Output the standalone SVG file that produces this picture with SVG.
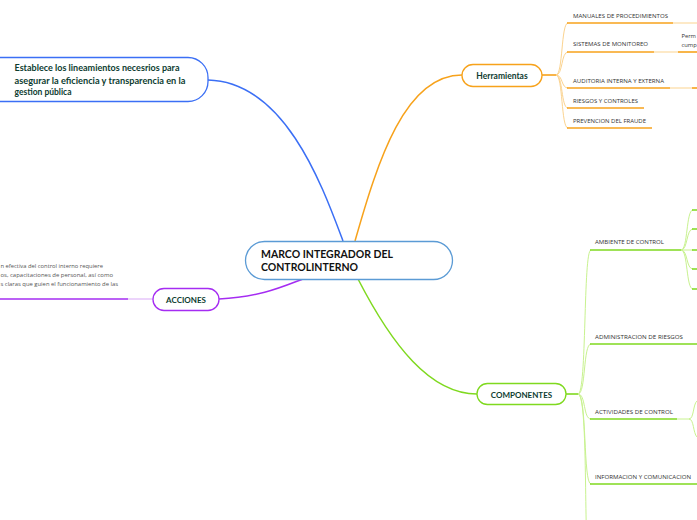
<svg xmlns="http://www.w3.org/2000/svg" width="697" height="520" viewBox="0 0 697 520">
<style>
.node{fill:#fff;stroke-width:1.3}
.nt{font-family:Lato,"Open Sans",sans-serif;font-weight:bold;fill:#0d3c30}
.ct{font-family:Lato,"Open Sans",sans-serif;font-weight:bold;fill:#111;font-size:10.5px}
.st{font-family:"Open Sans","Noto Sans",sans-serif;font-size:5.8px;fill:#333}
.gt{font-family:"Open Sans","Noto Sans",sans-serif;font-size:6px;fill:#555}
.c{fill:none}
.ob{stroke:#f7a21b;stroke-width:1.6}
.ol{stroke:#fbd38f;stroke-width:1}
.gb{stroke:#7fd91f;stroke-width:1.6}
.gl{stroke:#c8f28f;stroke-width:1}
</style>
<rect width="697" height="520" fill="#fff"/>
<g id="connectors">
<path class="c" d="M208,80 C285,82 322,185 343,241" stroke="#3b6ff5" stroke-width="1.5"/>
<path class="c" d="M355,241 C378,160 405,75 462,75" stroke="#f7a21b" stroke-width="1.5"/>
<path class="c" d="M219,299 C260,297 282,287 303,279" stroke="#a52cf2" stroke-width="1.5"/>
<path class="c" d="M358,279 C392,345 430,394 477,394" stroke="#7fd91f" stroke-width="1.5"/>
<path class="c" d="M128,299 L153,299" stroke="#d9a9f7" stroke-width="1"/>
<path class="c" d="M0,299 L128,299" stroke="#a52cf2" stroke-width="1.6"/>
<path class="c ob" d="M542,75 L556,75"/>
<path class="c ol" d="M556,75 C563,75 561,23 568,23"/>
<path class="c ol" d="M556,75 C563,75 561,52 568,52"/>
<path class="c ol" d="M556,75 C563,75 561,88 568,88"/>
<path class="c ol" d="M556,75 C563,75 561,108 568,108"/>
<path class="c ol" d="M556,75 C563,75 561,128 568,128"/>
<path class="c ob" d="M567,23 L673,23"/>
<path class="c ol" d="M673,23 L697,23"/>
<path class="c ob" d="M567,52 L654,52"/>
<path class="c ol" d="M654,52 L678,52"/>
<path class="c ob" d="M678,52 L697,52"/>
<path class="c ob" d="M567,88 L670,88"/>
<path class="c ol" d="M670,88 L692,88"/>
<path class="c ob" d="M692,88 L697,88"/>
<path class="c ob" d="M567,108 L644,108"/>
<path class="c ob" d="M567,128 L652,128"/>
<path class="c gb" d="M566,394 L578,394"/>
<path class="c gl" d="M578,394 C587,394 583,250 591,250"/>
<path class="c gl" d="M578,394 C586,394 583,344 591,344"/>
<path class="c gl" d="M578,394 C586,394 583,419 591,419"/>
<path class="c gl" d="M578,394 C587,394 583,484 591,484"/>
<path class="c gl" d="M578,394 C588,394 584,530 588,560"/>
<path class="c gb" d="M590,250 L681,250"/>
<path class="c gl" d="M681,250 C688,250 686,210 693,210"/>
<path class="c gl" d="M681,250 C688,250 686,229 693,229"/>
<path class="c gl" d="M681,250 L693,250"/>
<path class="c gl" d="M681,250 C688,250 686,269 693,269"/>
<path class="c gl" d="M681,250 C688,250 686,289 693,289"/>
<path class="c gb" d="M692,210 L697,210 M692,229 L697,229 M692,250 L697,250 M692,269 L697,269 M692,289 L697,289"/>
<path class="c gb" d="M590,344 L697,344"/>
<path class="c gb" d="M590,419 L677,419"/>
<path class="c gl" d="M677,419 L690,419"/>
<path class="c gl" d="M689,419 C694,419 693,404 697,401"/>
<path class="c gl" d="M689,419 C694,419 693,433 697,437"/>
<path class="c gb" d="M590,484 L697,484"/>
</g>
<g id="n-central">
<rect class="node" x="245.5" y="241.5" width="207" height="38" rx="19" stroke="#5b9bd5"/>
<text class="ct" x="261" y="258">MARCO INTEGRADOR DEL</text>
<text class="ct" x="261" y="271">CONTROLINTERNO</text>
</g>
<g id="n-establece">
<rect class="node" x="-20" y="57.5" width="228" height="44" rx="20" stroke="#3b6ff5"/>
<text class="nt" font-size="8.5" x="14.5" y="71" textLength="165" lengthAdjust="spacingAndGlyphs">Establece los lineamientos necesrios para</text>
<text class="nt" font-size="8.5" x="14.5" y="84" textLength="171" lengthAdjust="spacingAndGlyphs">asegurar la eficiencia y transparencia en la</text>
<text class="nt" font-size="8.5" x="14.5" y="95">gestion pública</text>
</g>
<g id="n-herramientas">
<rect class="node" x="462" y="64.5" width="80" height="22" rx="11" stroke="#f7a21b"/>
<text class="nt" font-size="8.5" x="502" y="79" text-anchor="middle">Herramientas</text>
</g>
<g id="n-acciones">
<rect class="node" x="153" y="288.5" width="66" height="22" rx="11" stroke="#a52cf2"/>
<text class="nt" font-size="8" x="186" y="302.5" text-anchor="middle">ACCIONES</text>
</g>
<g id="n-acciones-text">
<text class="gt" x="0.5" y="268" textLength="102.5" lengthAdjust="spacingAndGlyphs">n efectiva del control interno requiere</text>
<text class="gt" x="0.5" y="277" textLength="112.5" lengthAdjust="spacingAndGlyphs">os, capacitaciones de personal, así como</text>
<text class="gt" x="0.5" y="286" textLength="117.5" lengthAdjust="spacingAndGlyphs">s claras que guien el funcionamiento de las</text>
</g>
<g id="n-componentes">
<rect class="node" x="477" y="383.5" width="89" height="21" rx="10.5" stroke="#7fd91f"/>
<text class="nt" font-size="8" x="521.5" y="397.5" text-anchor="middle">COMPONENTES</text>
</g>
<g id="n-manuales"><text class="st" x="573" y="18" textLength="95" lengthAdjust="spacingAndGlyphs">MANUALES DE PROCEDIMIENTOS</text></g>
<g id="n-sistemas"><text class="st" x="573" y="46" textLength="75" lengthAdjust="spacingAndGlyphs">SISTEMAS DE MONITOREO</text></g>
<g id="n-permite"><text class="st" x="681.5" y="37.5">Perm</text><text class="st" x="681.5" y="46.5">cump</text></g>
<g id="n-auditoria"><text class="st" x="573" y="83" textLength="91" lengthAdjust="spacingAndGlyphs">AUDITORIA INTERNA Y EXTERNA</text></g>
<g id="n-riesgos"><text class="st" x="573" y="103" textLength="65" lengthAdjust="spacingAndGlyphs">RIESGOS Y CONTROLES</text></g>
<g id="n-prevencion"><text class="st" x="573" y="123" textLength="73" lengthAdjust="spacingAndGlyphs">PREVENCION DEL FRAUDE</text></g>
<g id="n-ambiente"><text class="st" x="595" y="244" textLength="69" lengthAdjust="spacingAndGlyphs">AMBIENTE DE CONTROL</text></g>
<g id="n-administracion"><text class="st" x="595" y="339" textLength="88" lengthAdjust="spacingAndGlyphs">ADMINISTRACION DE RIESGOS</text></g>
<g id="n-actividades"><text class="st" x="595" y="414" textLength="78" lengthAdjust="spacingAndGlyphs">ACTIVIDADES DE CONTROL</text></g>
<g id="n-informacion"><text class="st" x="595" y="479" textLength="96" lengthAdjust="spacingAndGlyphs">INFORMACION Y COMUNICACION</text></g>
</svg>
